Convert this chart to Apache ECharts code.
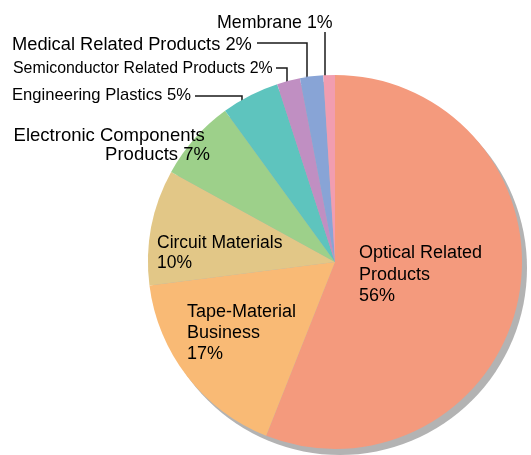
<!DOCTYPE html>
<html>
<head>
<meta charset="utf-8">
<script src="https://cdn.jsdelivr.net/npm/echarts@6/dist/echarts.min.js"></script>
<style>html,body{margin:0;padding:0;background:#fff}#c{width:531px;height:455px}</style>
</head>
<body>
<div id="c"></div>
<script>
var categories = ['Optical Related\nProducts', 'Tape-Material\nBusiness', 'Circuit Materials', 'Electronic Components \nProducts', 'Engineering Plastics', 'Semiconductor Related Products', 'Medical Related Products', 'Membrane'];
var values = [56, 17, 10, 7, 5, 2, 2, 1];
var colors = ['#F49A7D', '#F9BA75', '#E2C787', '#9DD08A', '#5EC4BE', '#C08FC2', '#88A4D6', '#F19DB0'];
var insideCount = 3;

// label layout (positions, not data)
var labelPos = [
  {x: 359, y: 275, align: 'left', lh: 21.5, fs: 18},
  {x: 187, y: 333, align: 'left', lh: 21, fs: 18},
  {x: 157, y: 253, align: 'left', lh: 19.5, fs: 17.5},
  {x: 210, y: 145.5, align: 'right', lh: 19.5, fs: 18.5},
  {x: 12, y: 95, align: 'left', lh: 20, fs: 16.6, line: [[242, 106], [242, 96], [195, 96]]},
  {x: 13, y: 69, align: 'left', lh: 20, fs: 15.9, line: [[287, 87], [287, 68], [276, 68]]},
  {x: 12, y: 45, align: 'left', lh: 20, fs: 18.3, line: [[307, 78], [307, 43], [257, 43]]},
  {x: 217, y: 23.5, align: 'left', lh: 20, fs: 17.8, line: [[325, 84], [325, 32]]}
];

var data = categories.map(function (c, i) {
  var p = labelPos[i];
  return {
    name: c,
    value: values[i],
    itemStyle: {color: colors[i]},
    label: {fontSize: p.fs, lineHeight: p.lh, align: p.align},
    labelLine: {show: !!p.line}
  };
});

var chart = echarts.init(document.getElementById('c'), null, {renderer: 'canvas'});
chart.setOption({
  animation: false,
  series: [
    {
      type: 'pie',
      silent: true,
      center: [340, 268],
      radius: 187,
      label: {show: false},
      labelLine: {show: false},
      data: [{value: 1, itemStyle: {color: '#B3B3B3'}}],
      z: 1
    },
    {
      type: 'pie',
      center: [335, 262],
      radius: 187,
      startAngle: 90,
      clockwise: true,
      avoidLabelOverlap: false,
      itemStyle: {borderWidth: 0},
      label: {
        show: true,
        position: 'outside',
        color: '#000',
        fontFamily: 'Liberation Sans, Arial, sans-serif',
        formatter: function (p) {
          return p.dataIndex < insideCount ? p.name + '\n' + p.value + '%' : p.name + ' ' + p.value + '%';
        }
      },
      labelLine: {show: true, lineStyle: {color: '#1a1a1a', width: 1.5}},
      labelLayout: function (params) {
        var p = labelPos[params.dataIndex];
        var r = {x: p.x, y: p.y, align: p.align, verticalAlign: 'middle'};
        if (p.line) r.labelLinePoints = p.line;
        return r;
      },
      data: data,
      z: 2
    }
  ]
});
</script>
</body>
</html>
